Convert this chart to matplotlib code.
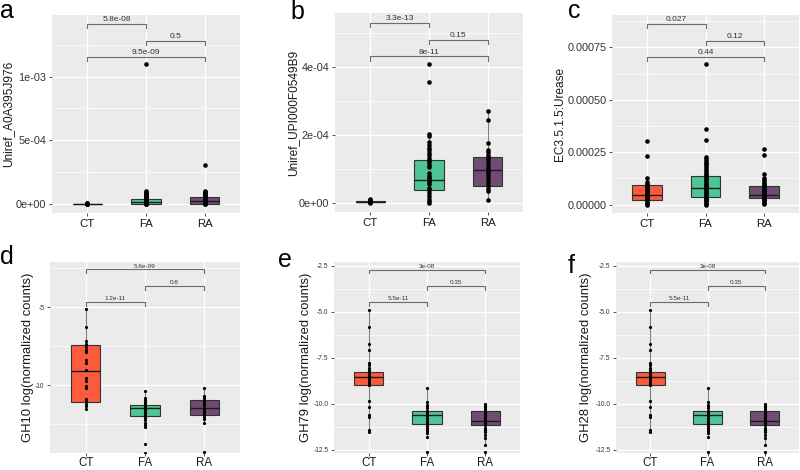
import matplotlib
matplotlib.use("Agg")
import matplotlib.pyplot as plt
from matplotlib.ticker import FixedLocator

plt.rcParams["font.family"] = ["Liberation Sans", "DejaVu Sans"]

GROUPS = ["CT", "FA", "RA"]
COLORS = ["#FA5B3D", "#4EC596", "#714B74"]

# ---- panel a: Uniref_A0A395J976 ----
a_ct = [0.0, 0.1e-5, 0.2e-5, 0.3e-5, 0.4e-5, 0.5e-5, 0.6e-5]
a_fa = [0.0, 0.2e-5, 0.4e-5, 0.6e-5, 0.8e-5, 1.0e-5, 1.3e-5, 1.6e-5, 2.0e-5, 2.3e-5,
        2.7e-5, 3.0e-5, 3.4e-5, 3.9e-5, 4.3e-5, 4.8e-5, 5.3e-5, 5.8e-5, 6.3e-5, 6.8e-5,
        7.4e-5, 8.0e-5, 8.6e-5, 9.2e-5, 9.9e-5, 1.1e-3]
a_ra = [0.0, 0.3e-5, 0.6e-5, 1.0e-5, 1.4e-5, 1.8e-5, 2.2e-5, 2.6e-5, 3.0e-5, 3.5e-5,
        4.0e-5, 4.6e-5, 5.2e-5, 5.8e-5, 6.4e-5, 7.0e-5, 7.7e-5, 8.4e-5, 9.1e-5, 9.8e-5,
        10.6e-5, 3.1e-4]
# box stats per group: (whislo, q1, median, q3, whishi)
a_box = [(0.0, 0.0, 0.1e-5, 0.3e-5, 0.6e-5),
         (0.0, 0.3e-5, 2.0e-5, 3.9e-5, 9.2e-5),
         (0.0, 0.3e-5, 2.6e-5, 5.2e-5, 10.6e-5)]
a_pvals = [(0, 1, 1.413e-3, "5.8e-08"), (1, 2, 1.282e-3, "0.5"), (0, 2, 1.151e-3, "9.5e-09")]

# ---- panel b: Uniref_UPI000F0549B9 ----
b_ct = [0.0, 0.1e-5, 0.2e-5, 0.3e-5, 0.5e-5, 0.7e-5, 0.9e-5, 1.1e-5]
b_fa = [0.0, 0.05e-4, 0.1e-4, 0.2e-4, 0.3e-4, 0.38e-4, 0.45e-4, 0.55e-4, 0.62e-4, 0.67e-4,
        0.72e-4, 0.8e-4, 0.88e-4, 1.05e-4, 1.12e-4, 1.2e-4, 1.26e-4, 1.32e-4, 1.4e-4, 1.47e-4,
        1.55e-4, 1.62e-4, 1.7e-4, 1.78e-4, 1.98e-4, 2.02e-4, 3.56e-4, 4.10e-4]
b_ra = [0.08e-4, 0.35e-4, 0.42e-4, 0.5e-4, 0.58e-4, 0.66e-4, 0.75e-4, 0.85e-4, 0.92e-4, 0.96e-4,
        1.02e-4, 1.1e-4, 1.2e-4, 1.3e-4, 1.36e-4, 1.42e-4, 1.5e-4, 1.55e-4, 1.76e-4, 2.44e-4,
        2.70e-4]
b_box = [(0.0, 0.1e-5, 0.2e-5, 0.4e-5, 1.1e-5),
         (0.0, 0.38e-4, 0.67e-4, 1.26e-4, 2.02e-4),
         (0.08e-4, 0.5e-4, 0.96e-4, 1.36e-4, 2.70e-4)]
b_pvals = [(0, 1, 5.31e-4, "3.3e-13"), (1, 2, 4.80e-4, "0.15"), (0, 2, 4.31e-4, "8e-11")]

# ---- panel c: EC3.5.1.5:Urease ----
c_ct = [0.0, 0.5e-5, 1.0e-5, 1.5e-5, 2.0e-5, 2.5e-5, 3.0e-5, 3.5e-5, 4.0e-5, 4.6e-5,
        5.2e-5, 5.8e-5, 6.4e-5, 7.0e-5, 7.6e-5, 8.2e-5, 8.8e-5, 9.4e-5, 10.0e-5, 10.6e-5,
        12.7e-5, 23.0e-5, 30.6e-5]
c_fa = [0.0, 0.5e-5, 1.0e-5, 1.5e-5, 2.0e-5, 2.5e-5, 3.0e-5, 3.7e-5, 4.3e-5, 5.0e-5,
        5.7e-5, 6.4e-5, 7.1e-5, 7.8e-5, 8.5e-5, 9.2e-5, 10.0e-5, 10.8e-5, 11.6e-5, 12.4e-5,
        13.2e-5, 14.0e-5, 14.8e-5, 15.6e-5, 16.5e-5, 17.4e-5, 18.3e-5, 19.2e-5, 20.1e-5,
        21.0e-5, 22.0e-5, 22.7e-5, 31.0e-5, 35.9e-5, 67.0e-5]
c_ra = [0.5e-5, 1.0e-5, 1.5e-5, 2.0e-5, 2.5e-5, 3.0e-5, 3.5e-5, 4.0e-5, 4.6e-5, 5.2e-5,
        5.8e-5, 6.4e-5, 7.0e-5, 7.6e-5, 8.2e-5, 8.8e-5, 9.4e-5, 10.0e-5, 10.8e-5, 11.6e-5,
        12.7e-5, 14.4e-5, 23.8e-5, 26.7e-5]
c_box = [(0.0, 2.0e-5, 4.6e-5, 9.2e-5, 12.7e-5),
         (0.0, 3.7e-5, 7.8e-5, 13.7e-5, 22.7e-5),
         (0.5e-5, 3.0e-5, 4.6e-5, 8.7e-5, 14.4e-5)]
c_pvals = [(0, 1, 0.000862, "0.027"), (1, 2, 0.000783, "0.12"), (0, 2, 0.000703, "0.44")]

# ---- panel d: GH10 ----
d_ct = [-5.13, -6.26, -7.14, -7.36, -7.56, -7.73, -7.88, -8.40, -8.57, -9.03, -9.56, -9.71,
        -10.08, -10.19, -10.89, -11.03, -11.18, -11.35, -11.52]
d_fa = [-10.36, -10.82, -10.95, -11.05, -11.15, -11.24, -11.32, -11.40, -11.47, -11.55,
        -11.62, -11.70, -11.80, -11.90, -11.99, -12.10, -12.25, -12.40, -12.55, -12.71,
        -13.76, -14.33]
d_ra = [-10.15, -10.72, -10.85, -10.97, -11.10, -11.20, -11.30, -11.47, -11.55, -11.65,
        -11.75, -11.85, -11.93, -12.05, -12.20, -12.40, -14.29]
d_box = [(-11.52, -11.05, -9.08, -7.40, -5.13),
         (-12.71, -11.99, -11.47, -11.24, -10.36),
         (-12.40, -11.93, -11.47, -10.97, -10.15)]
d_pvals = [(0, 2, -2.58, "5.6e-09"), (1, 2, -3.63, "0.8"), (0, 1, -4.68, "1.2e-11")]

# ---- panels e and f: GH79 / GH28 ----
e_ct = [-4.88, -5.82, -6.75, -7.05, -7.79, -7.91, -8.04, -8.18, -8.30, -8.40, -8.48, -8.54,
        -8.60, -8.70, -8.80, -8.90, -8.98, -9.87, -10.19, -10.59, -10.71, -11.45, -11.54]
e_fa = [-9.16, -9.93, -10.05, -10.15, -10.25, -10.37, -10.45, -10.52, -10.59, -10.66,
        -10.75, -10.85, -10.95, -11.05, -11.12, -11.20, -11.30, -11.40, -11.50, -11.57,
        -11.80, -12.64]
e_ra = [-10.02, -10.10, -10.20, -10.30, -10.41, -10.50, -10.60, -10.70, -10.80, -10.90,
        -10.96, -11.05, -11.18, -11.30, -11.42, -11.55, -11.70, -11.84, -12.23, -12.64]
e_box = [(-11.54, -8.98, -8.54, -8.30, -4.88),
         (-11.80, -11.12, -10.59, -10.37, -9.16),
         (-12.23, -11.18, -10.96, -10.41, -10.02)]
e_pvals = [(0, 2, -2.70, "3e-08"), (1, 2, -3.59, "0.35"), (0, 1, -4.48, "5.5e-11")]

W, H = 800, 470


def px_rect(left, right, top, bottom):
    return [left / W, 1 - bottom / H, (right - left) / W, (bottom - top) / H]


PANELS = [
    dict(letter="a", rect=px_rect(52, 240, 15, 213), letter_xy=(0, 18),
         data=(a_ct, a_fa, a_ra), box=a_box, pvals=a_pvals, tip=0.031e-3,
         ylim=(-0.07e-3, 1.483e-3), ylabel="Uniref_A0A395J976", ylabel_px=8,
         yticks=[0, 5e-4, 1e-3], yticklabels=["0e+00", "5e-04", "1e-03"],
         minor=[2.5e-4, 7.5e-4, 1.25e-3], top=True),
    dict(letter="b", rect=px_rect(335, 523, 13, 212), letter_xy=(290, 19),
         data=(b_ct, b_fa, b_ra), box=b_box, pvals=b_pvals, tip=0.12e-4,
         ylim=(-0.27e-4, 5.59e-4), ylabel="Uniref_UPI000F0549B9", ylabel_px=293,
         yticks=[0, 2e-4, 4e-4], yticklabels=["0e+00", "2e-04", "4e-04"],
         minor=[1e-4, 3e-4, 5e-4], top=True),
    dict(letter="c", rect=px_rect(612, 799, 15, 213), letter_xy=(568, 18),
         data=(c_ct, c_fa, c_ra), box=c_box, pvals=c_pvals, tip=0.019e-3,
         ylim=(-0.00004, 0.000905), ylabel="EC3.5.1.5:Urease", ylabel_px=560,
         yticks=[0, 0.00025, 0.0005, 0.00075],
         yticklabels=["0.00000", "0.00025", "0.00050", "0.00075"],
         minor=[0.000125, 0.000375, 0.000625, 0.000875], top=True),
    dict(letter="d", rect=px_rect(50, 240, 262, 453), letter_xy=(0, 264),
         data=(d_ct, d_fa, d_ra), box=d_box, pvals=d_pvals, tip=0.25,
         ylim=(-14.35, -2.10), ylabel="GH10 log(normalized counts)", ylabel_px=28,
         yticks=[-10, -5], yticklabels=["-10", "-5"],
         minor=[-12.5, -7.5, -2.5], top=False),
    dict(letter="e", rect=px_rect(334, 520, 262, 453), letter_xy=(278, 267),
         data=(e_ct, e_fa, e_ra), box=e_box, pvals=e_pvals, tip=0.21,
         ylim=(-12.68, -2.29), ylabel="GH79 log(normalized counts)", ylabel_px=306,
         yticks=[-12.5, -10, -7.5, -5, -2.5],
         yticklabels=["-12.5", "-10.0", "-7.5", "-5.0", "-2.5"],
         minor=[-11.25, -8.75, -6.25, -3.75], top=False),
    dict(letter="f", rect=px_rect(616, 799, 262, 453), letter_xy=(568, 273),
         data=(e_ct, e_fa, e_ra), box=e_box, pvals=e_pvals, tip=0.21,
         ylim=(-12.68, -2.29), ylabel="GH28 log(normalized counts)", ylabel_px=586,
         yticks=[-12.5, -10, -7.5, -5, -2.5],
         yticklabels=["-12.5", "-10.0", "-7.5", "-5.0", "-2.5"],
         minor=[-11.25, -8.75, -6.25, -3.75], top=False),
]


def draw_panel(fig, p):
    ax = fig.add_axes(p["rect"])
    ax.set_facecolor("#EBEBEB")
    for s in ax.spines.values():
        s.set_visible(False)

    top = p["top"]
    stats = []
    for (lo, q1, med, q3, hi) in p["box"]:
        stats.append(dict(whislo=lo, q1=q1, med=med, q3=q3, whishi=hi, fliers=[]))
    bp = ax.bxp(stats, positions=[0, 1, 2], widths=0.5, patch_artist=True,
                showfliers=False, showcaps=False,
                boxprops=dict(edgecolor="#333333", linewidth=0.8),
                medianprops=dict(color="#1a1a1a", linewidth=1.0),
                whiskerprops=dict(color="#7f7f7f", linewidth=0.8))
    for patch, col in zip(bp["boxes"], COLORS):
        patch.set_facecolor(col)
        patch.set_zorder(2)
    for ln in bp["medians"]:
        ln.set_zorder(2.5)

    ms = 3.3 if top else 2.3
    for i, vals in enumerate(p["data"]):
        ax.plot([i] * len(vals), vals, "o", color="black", markersize=ms,
                markeredgewidth=0, zorder=3, clip_on=True)

    fs_p = 6.0 if top else 4.6
    for i0, i1, y, label in p["pvals"]:
        ax.plot([i0, i0, i1, i1], [y - p["tip"], y, y, y - p["tip"]],
                color="#6b6b6b", linewidth=0.8, zorder=3)
        ax.annotate(label, ((i0 + i1) / 2, y), xytext=(0, 0.6), textcoords="offset points",
                    ha="center", va="bottom", fontsize=fs_p, color="#333333")

    ax.set_xlim(-0.6, 2.6)
    ax.set_ylim(*p["ylim"])
    ax.set_xticks([0, 1, 2])
    ax.set_xticklabels(GROUPS)
    ax.set_yticks(p["yticks"])
    ax.set_yticklabels(p["yticklabels"])
    ax.yaxis.set_minor_locator(FixedLocator(p["minor"]))
    ax.tick_params(axis="y", which="minor", length=0)

    ax.grid(True, which="major", color="white", linewidth=1.0, zorder=0)
    ax.grid(True, which="minor", axis="y", color="white", linewidth=0.5, zorder=0)
    ax.set_axisbelow(True)

    ax.tick_params(axis="both", which="major", length=2.5, width=0.6, color="#333333", pad=1.5)
    ax.tick_params(axis="x", labelsize=8.2 if top else 8.3, labelcolor="#1a1a1a",
                   pad=1.5 if top else 0.5)
    ax.tick_params(axis="y", labelsize=7.8 if top else 4.8, labelcolor="#333333")

    ax.set_ylabel(p["ylabel"], fontsize=8.6 if top else 9.4, color="#1a1a1a", va="center")
    left_px = p["rect"][0] * W
    width_px = p["rect"][2] * W
    ax.yaxis.set_label_coords((p["ylabel_px"] - left_px) / width_px, 0.5)

    lx, ly = p["letter_xy"]
    fig.text(lx / W, 1 - ly / H, p["letter"], fontsize=18, ha="left", va="baseline",
             color="black")
    return ax


fig = plt.figure(figsize=(W / 100, H / 100), dpi=100)
fig.patch.set_facecolor("white")
for panel in PANELS:
    draw_panel(fig, panel)

fig.savefig("out.png", dpi=100)
